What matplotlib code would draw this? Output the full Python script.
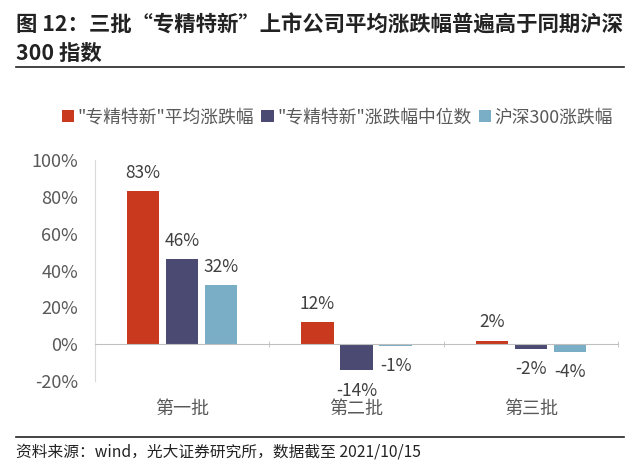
import numpy as np
import matplotlib
matplotlib.use('Agg')
import matplotlib.pyplot as plt
from matplotlib.ticker import FuncFormatter, FixedLocator

plt.rcParams['font.family'] = ['Noto Sans CJK SC', 'DejaVu Sans']

# data
categories = ['第一批', '第二批', '第三批']
series_names = ['"专精特新"平均涨跌幅', '"专精特新"涨跌幅中位数', '沪深300涨跌幅']
avg_chg = [83, 11.8, 1.9]
median_chg = [46, -14.3, -2.4]
hs300_chg = [32, -1, -4.4]
colors = ['#C8391E', '#4B4A72', '#7AAEC6']

title_lines = ['图 12：三批“专精特新”上市公司平均涨跌幅普遍高于同期沪深', '300 指数']
source_text = '资料来源：wind，光大证券研究所，数据截至 2021/10/15'

grey = '#595959'

fig = plt.figure(figsize=(6.4, 4.68), dpi=100)
ax = fig.add_axes([0.148, 0.186, 0.818, 0.472])

x = np.arange(len(categories))
w = 0.185
offs = [-0.224, 0, 0.224]
handles = []
for vals, off, c, name in zip([avg_chg, median_chg, hs300_chg], offs, colors, series_names):
    bars = ax.bar(x + off, vals, w, color=c, label=name, zorder=3)
    handles.append(bars)
    for xi, v in zip(x + off, vals):
        lbl = f'{round(v):d}%'
        if v >= 0:
            ax.annotate(lbl, (xi, v), xytext=(0, 7), textcoords='offset points',
                        ha='center', va='bottom', fontsize=12.5, color='#404040')
        else:
            ax.annotate(lbl, (xi, v), xytext=(0, -8), textcoords='offset points',
                        ha='center', va='top', fontsize=12.5, color='#404040')

ax.set_xlim(-0.5, 2.5)
ax.set_ylim(-20, 100)
ax.set_yticks(np.arange(-20, 101, 20))
ax.yaxis.set_major_formatter(FuncFormatter(lambda v, p: f'{v:.0f}%'))
ax.tick_params(axis='y', length=0, labelsize=13, labelcolor=grey, pad=12)

for s in ['top', 'right']:
    ax.spines[s].set_visible(False)
ax.spines['left'].set_color('#D9D9D9')
ax.spines['bottom'].set_position(('data', 0))
ax.spines['bottom'].set_color('#BFBFBF')
ax.spines['bottom'].set_zorder(4)

ax.set_xticks(x)
ax.set_xticklabels(categories)
ax.xaxis.set_minor_locator(FixedLocator([0.5, 1.5, 2.5]))
ax.tick_params(axis='x', which='major', length=0, labelsize=13, labelcolor=grey, pad=40)
ax.tick_params(axis='x', which='minor', length=5, direction='inout', color='#BFBFBF')

fig.legend(handles=handles, loc='center', bbox_to_anchor=(0.527, 0.75), ncol=3,
           frameon=False, fontsize=12.8, handlelength=0.7, handleheight=0.7,
           handletextpad=0.2, columnspacing=0.4, labelcolor=grey)

fig.text(0.025, 1 - 25 / 468, title_lines[0], fontsize=15.4, fontweight='bold',
         va='center', ha='left', color='#222222')
fig.text(0.025, 1 - 53 / 468, title_lines[1], fontsize=15.4, fontweight='bold',
         va='center', ha='left', color='#222222')
fig.add_artist(plt.Line2D([0.025, 0.975], [1 - 67 / 468] * 2, color='#222222', lw=1.2))
fig.add_artist(plt.Line2D([0.025, 0.975], [1 - 437 / 468] * 2, color='#222222', lw=1.2))
fig.text(0.025, 1 - 452 / 468, source_text, fontsize=11.3, va='center', ha='left', color='#222222')

fig.savefig('out.png', dpi=100)
